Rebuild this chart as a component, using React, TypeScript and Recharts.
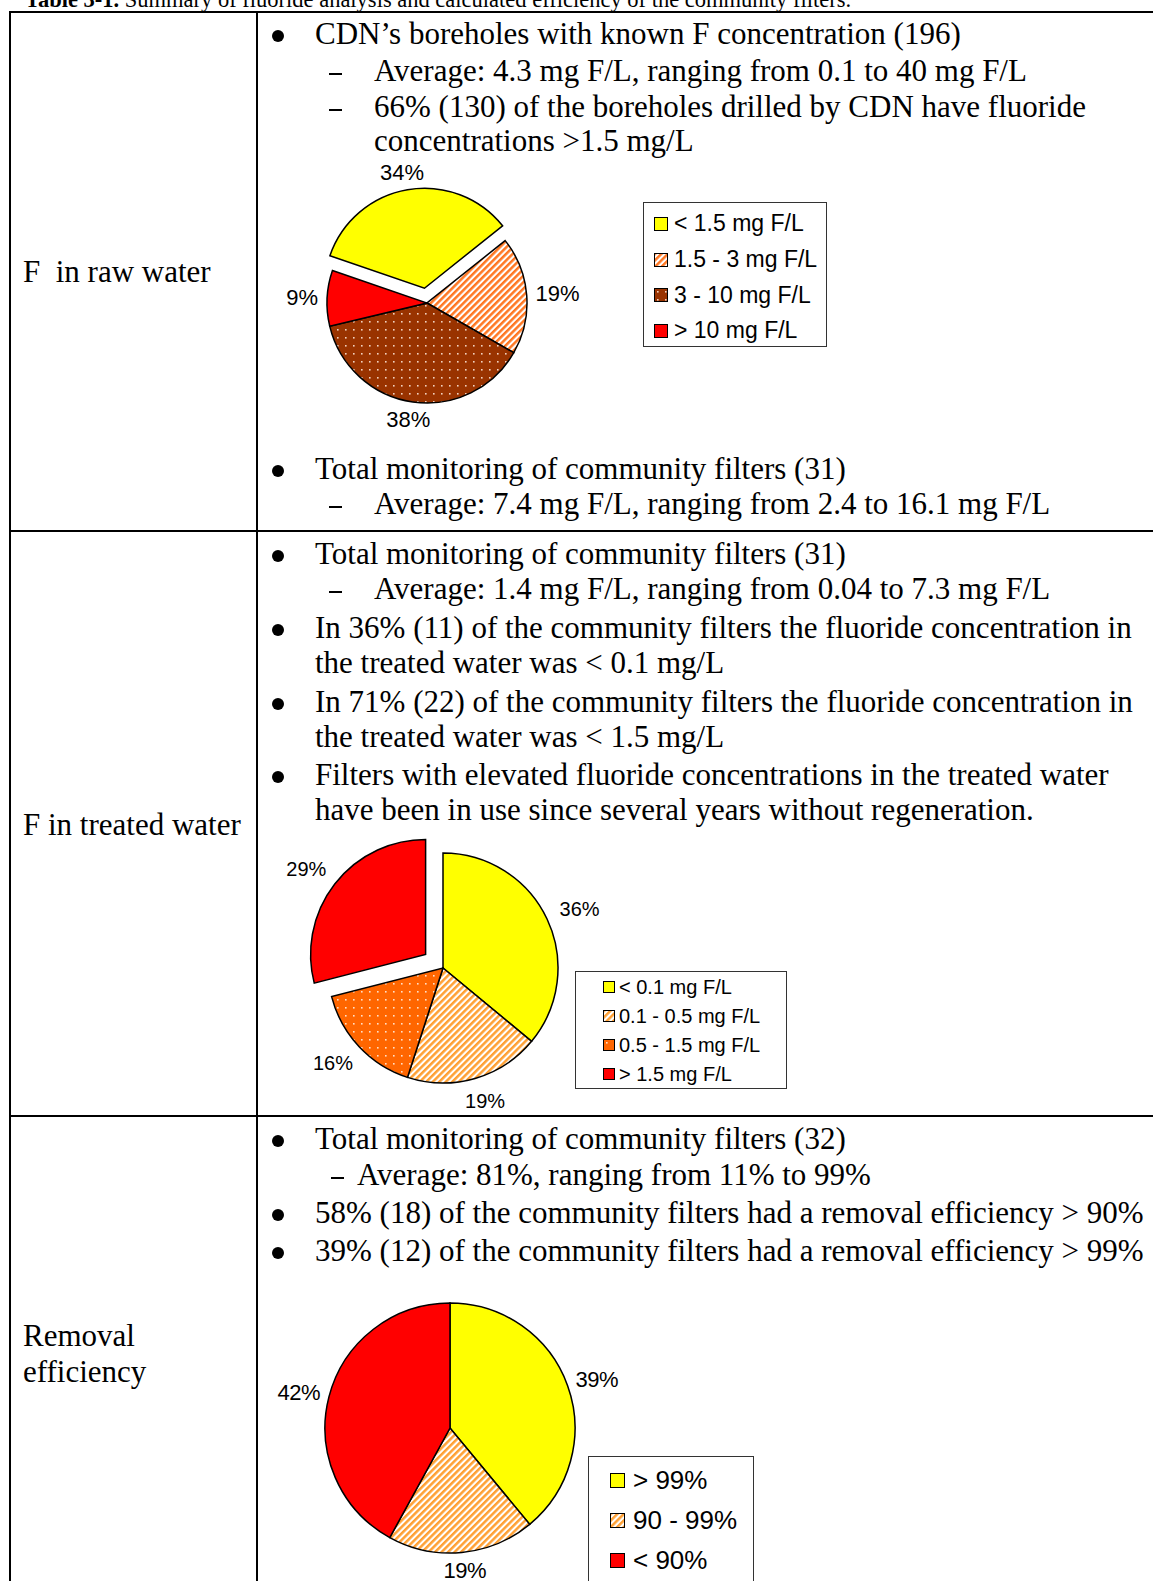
import { PieChart, Pie, Cell } from 'recharts';

// pie data (percent of boreholes / filters)
const rawNames = ['< 1.5 mg F/L', '1.5 - 3 mg F/L', '3 - 10 mg F/L', '> 10 mg F/L'];
const rawValues = [34, 19, 38, 9];

const treatedNames = ['< 0.1 mg F/L', '0.1 - 0.5 mg F/L', '0.5 - 1.5 mg F/L', '> 1.5 mg F/L'];
const treatedValues = [36, 19, 16, 29];

const removalNames = ['> 99%', '90 - 99%', '< 90%'];
const removalValues = [39, 19, 42];

const rawFills = ['#ffff00', 'url(#stripe-raw)', 'url(#dots-brown)', '#ff0000'];
const treatedFills = ['#ffff00', 'url(#stripe-light)', 'url(#dots-orange)', '#ff0000'];
const removalFills = ['#ffff00', 'url(#stripe-light)', '#ff0000'];

const RAD = Math.PI / 180;
const SERIF = '"Liberation Serif", "Times New Roman", serif';
const SANS = '"Liberation Sans", Arial, sans-serif';

type Kind = 'bullet' | 'dash' | 'dash3' | 'cont' | 'cont2';
type Line = { kind: Kind; y: number; text: string };

const textLines: Line[] = [
  { kind: 'bullet', y: 34, text: 'CDN’s boreholes with known F concentration (196)' },
  { kind: 'dash', y: 71, text: 'Average: 4.3 mg F/L, ranging from 0.1 to 40 mg F/L' },
  { kind: 'dash', y: 107, text: '66% (130) of the boreholes drilled by CDN have fluoride' },
  { kind: 'cont2', y: 141, text: 'concentrations >1.5 mg/L' },
  { kind: 'bullet', y: 469, text: 'Total monitoring of community filters (31)' },
  { kind: 'dash', y: 504, text: 'Average: 7.4 mg F/L, ranging from 2.4 to 16.1 mg F/L' },

  { kind: 'bullet', y: 554, text: 'Total monitoring of community filters (31)' },
  { kind: 'dash', y: 589, text: 'Average: 1.4 mg F/L, ranging from 0.04 to 7.3 mg F/L' },
  { kind: 'bullet', y: 628, text: 'In 36% (11) of the community filters the fluoride concentration in' },
  { kind: 'cont', y: 663, text: 'the treated water was < 0.1 mg/L' },
  { kind: 'bullet', y: 702, text: 'In 71% (22) of the community filters the fluoride concentration in' },
  { kind: 'cont', y: 737, text: 'the treated water was < 1.5 mg/L' },
  { kind: 'bullet', y: 775, text: 'Filters with elevated fluoride concentrations in the treated water' },
  { kind: 'cont', y: 810, text: 'have been in use since several years without regeneration.' },

  { kind: 'bullet', y: 1139, text: 'Total monitoring of community filters (32)' },
  { kind: 'dash3', y: 1175, text: 'Average: 81%, ranging from 11% to 99%' },
  { kind: 'bullet', y: 1213, text: '58% (18) of the community filters had a removal efficiency > 90%' },
  { kind: 'bullet', y: 1251, text: '39% (12) of the community filters had a removal efficiency > 99%' },
];

const rowLabels = [
  { y: 272, text: 'F  in raw water' },
  { y: 825, text: 'F in treated water' },
  { y: 1336, text: 'Removal' },
  { y: 1372, text: 'efficiency' },
];

function Txt({ x, y, children, size = 31 }: { x: number; y: number; children: any; size?: number }) {
  return (
    <div
      style={{
        position: 'absolute',
        left: x,
        top: y - 18.5,
        fontFamily: SERIF,
        fontSize: size,
        lineHeight: '36px',
        whiteSpace: 'pre',
        color: '#000',
      }}
    >
      {children}
    </div>
  );
}

function BodyLine({ line }: { line: Line }) {
  const { kind, y, text } = line;
  if (kind === 'bullet') {
    return (
      <>
        <div
          style={{
            position: 'absolute',
            left: 272,
            top: y - 4,
            width: 12,
            height: 12,
            borderRadius: '50%',
            background: '#000',
          }}
        />
        <Txt x={315} y={y}>{text}</Txt>
      </>
    );
  }
  if (kind === 'dash' || kind === 'dash3') {
    return (
      <>
        <div
          style={{
            position: 'absolute',
            left: kind === 'dash' ? 329 : 331,
            top: y + 2,
            width: 13,
            height: 1.6,
            background: '#000',
          }}
        />
        <Txt x={kind === 'dash' ? 374 : 357} y={y}>{text}</Txt>
      </>
    );
  }
  return <Txt x={kind === 'cont' ? 315 : 374} y={y}>{text}</Txt>;
}

function PatternDefs() {
  return (
    <svg width={0} height={0} style={{ position: 'absolute' }}>
      <defs>
        <pattern id="stripe-raw" patternUnits="userSpaceOnUse" width={4.6} height={4.6} patternTransform="rotate(45)">
          <rect width={4.6} height={4.6} fill="#fff" />
          <rect width={2.5} height={4.6} fill="#ff7722" />
        </pattern>
        <pattern id="stripe-light" patternUnits="userSpaceOnUse" width={4.6} height={4.6} patternTransform="rotate(45)">
          <rect width={4.6} height={4.6} fill="#fff" />
          <rect width={2.5} height={4.6} fill="#ffa033" />
        </pattern>
        <pattern id="dots-brown" patternUnits="userSpaceOnUse" width={8} height={8}>
          <rect width={8} height={8} fill="#993300" />
          <rect x={3} y={3} width={1.6} height={1.6} fill="#f2d2c0" />
        </pattern>
        <pattern id="dots-orange" patternUnits="userSpaceOnUse" width={8} height={8}>
          <rect width={8} height={8} fill="#ff6600" />
          <rect x={3} y={3} width={1.6} height={1.6} fill="#ffe0c8" />
        </pattern>
      </defs>
    </svg>
  );
}

type PieProps = {
  names: string[];
  values: number[];
  fills: string[];
  left: number;
  top: number;
  width: number;
  height: number;
  cx: number;
  cy: number;
  r: number;
  start: number;
  explode?: number;
  explodeBy?: number;
  labelSize: number;
  labelGap: number;
  labelSpacing?: number;
};

function FluoridePie(p: PieProps) {
  const data = p.names.map((name, i) => ({ name, value: p.values[i] }));
  const total = p.values.reduce((a, b) => a + b, 0);
  const ex = p.explode ?? -1;
  const before = p.values.slice(0, Math.max(ex, 0)).reduce((a, b) => a + b, 0);
  const mid = ex >= 0 ? p.start - ((before + p.values[ex] / 2) / total) * 360 : 0;
  const d = ex >= 0 ? p.explodeBy ?? 0 : 0;
  const ecx = p.cx + d * Math.cos(mid * RAD);
  const ecy = p.cy - d * Math.sin(mid * RAD);

  // label sits just outside the slice, its box pushed away along the mid angle
  const label = (keep: (i: number) => boolean) => (props: any) => {
    const { cx, cy, midAngle, outerRadius, index } = props;
    if (!keep(index)) return <g key={`n${index}`} />;
    const txt = `${p.values[index]}%`;
    const halfW = (((txt.length - 1) * 0.556 + 0.889) * p.labelSize) / 2;
    const halfH = p.labelSize * 0.4;
    const c = Math.cos(-midAngle * RAD);
    const s = Math.sin(-midAngle * RAD);
    const x = cx + (outerRadius + p.labelGap) * c + halfW * c;
    const y = cy + (outerRadius + p.labelGap) * s + halfH * s;
    return (
      <text
        key={`l${index}`}
        x={x}
        y={y}
        textAnchor="middle"
        dominantBaseline="central"
        fontFamily={SANS}
        fontSize={p.labelSize}
        letterSpacing={p.labelSpacing ?? 0}
        fill="#000"
      >
        {txt}
      </text>
    );
  };

  return (
    <div style={{ position: 'absolute', left: p.left, top: p.top }}>
      <PieChart width={p.width} height={p.height} margin={{ top: 0, right: 0, bottom: 0, left: 0 }}>
        <Pie
          data={data}
          dataKey="value"
          nameKey="name"
          cx={p.cx}
          cy={p.cy}
          outerRadius={p.r}
          startAngle={p.start}
          endAngle={p.start - 360}
          isAnimationActive={false}
          labelLine={false}
          label={label((i) => i !== ex)}
        >
          {data.map((e, i) => (
            <Cell
              key={e.name}
              fill={i === ex ? 'none' : p.fills[i]}
              stroke={i === ex ? 'none' : '#000'}
              strokeWidth={1.5}
            />
          ))}
        </Pie>
        {ex >= 0 && (
          <Pie
            data={data}
            dataKey="value"
            nameKey="name"
            cx={ecx}
            cy={ecy}
            outerRadius={p.r}
            startAngle={p.start}
            endAngle={p.start - 360}
            isAnimationActive={false}
            labelLine={false}
            label={label((i) => i === ex)}
          >
            {data.map((e, i) => (
              <Cell
                key={e.name}
                fill={i === ex ? p.fills[i] : 'none'}
                stroke={i === ex ? '#000' : 'none'}
                strokeWidth={1.5}
              />
            ))}
          </Pie>
        )}
      </PieChart>
    </div>
  );
}

type LegendProps = {
  names: string[];
  fills: string[];
  left: number;
  top: number;
  width: number;
  height: number;
  fontSize: number;
  rowH: number;
  padTop: number;
  swatchX: number;
  swatch: number;
  textX: number;
};

function LegendBox(l: LegendProps) {
  return (
    <div
      style={{
        position: 'absolute',
        left: l.left,
        top: l.top,
        width: l.width,
        height: l.height,
        border: '1px solid #333',
        boxSizing: 'border-box',
        background: '#fff',
      }}
    >
      {l.names.map((n, i) => (
        <div key={n} style={{ position: 'absolute', left: 0, top: l.padTop + i * l.rowH, height: l.rowH, width: '100%' }}>
          <svg
            width={l.swatch}
            height={l.swatch}
            style={{ position: 'absolute', left: l.swatchX, top: (l.rowH - l.swatch) / 2 }}
          >
            <rect x={0.5} y={0.5} width={l.swatch - 1} height={l.swatch - 1} fill={l.fills[i]} stroke="#000" />
          </svg>
          <span
            style={{
              position: 'absolute',
              left: l.textX,
              top: 0,
              fontFamily: SANS,
              fontSize: l.fontSize,
              lineHeight: `${l.rowH}px`,
              whiteSpace: 'pre',
            }}
          >
            {n}
          </span>
        </div>
      ))}
    </div>
  );
}

const rule = (left: number, top: number, width: number, height: number) => (
  <div style={{ position: 'absolute', left, top, width, height, background: '#000' }} />
);

export default function App() {
  return (
    <div
      style={{
        position: 'absolute',
        left: 0,
        top: 0,
        width: 1153,
        height: 1581,
        overflow: 'hidden',
        background: '#fff',
      }}
    >
      <PatternDefs />

      <div
        style={{
          position: 'absolute',
          left: 25,
          top: -13,
          fontFamily: SERIF,
          fontSize: 22.5,
          lineHeight: '25px',
          whiteSpace: 'pre',
        }}
      >
        <b>Table 3-1.</b> Summary of fluoride analysis and calculated efficiency of the community filters.
      </div>

      {/* table grid */}
      {rule(9, 11, 1144, 2)}
      {rule(9, 11, 2, 1570)}
      {rule(256, 11, 2, 1570)}
      {rule(9, 530, 1144, 2)}
      {rule(9, 1115, 1144, 2)}

      {rowLabels.map((r) => (
        <Txt key={r.text} x={23} y={r.y}>
          {r.text}
        </Txt>
      ))}

      {textLines.map((l, i) => (
        <BodyLine key={i} line={l} />
      ))}

      <FluoridePie
        names={rawNames}
        values={rawValues}
        fills={rawFills}
        left={270}
        top={150}
        width={360}
        height={300}
        cx={157}
        cy={153}
        r={100}
        start={161}
        explode={0}
        explodeBy={15}
        labelSize={22}
        labelGap={9}
      />
      <LegendBox
        names={rawNames}
        fills={rawFills}
        left={643}
        top={202}
        width={184}
        height={145}
        fontSize={23}
        rowH={35.7}
        padTop={3.2}
        swatchX={10}
        swatch={14}
        textX={30}
      />

      <FluoridePie
        names={treatedNames}
        values={treatedValues}
        fills={treatedFills}
        left={270}
        top={820}
        width={400}
        height={300}
        cx={173}
        cy={148}
        r={115}
        start={90}
        explode={3}
        explodeBy={22}
        labelSize={20}
        labelGap={16}
      />
      <LegendBox
        names={treatedNames}
        fills={treatedFills}
        left={575}
        top={971}
        width={212}
        height={118}
        fontSize={20}
        rowH={29}
        padTop={0.5}
        swatchX={27}
        swatch={12}
        textX={43}
      />

      <FluoridePie
        names={removalNames}
        values={removalValues}
        fills={removalFills}
        left={270}
        top={1260}
        width={400}
        height={321}
        cx={180}
        cy={168}
        r={125}
        start={90}
        labelSize={22}
        labelGap={9}
        labelSpacing={-0.5}
      />
      <LegendBox
        names={removalNames}
        fills={removalFills}
        left={588}
        top={1456}
        width={166}
        height={160}
        fontSize={26}
        rowH={40}
        padTop={3}
        swatchX={21}
        swatch={15}
        textX={44}
      />
    </div>
  );
}
